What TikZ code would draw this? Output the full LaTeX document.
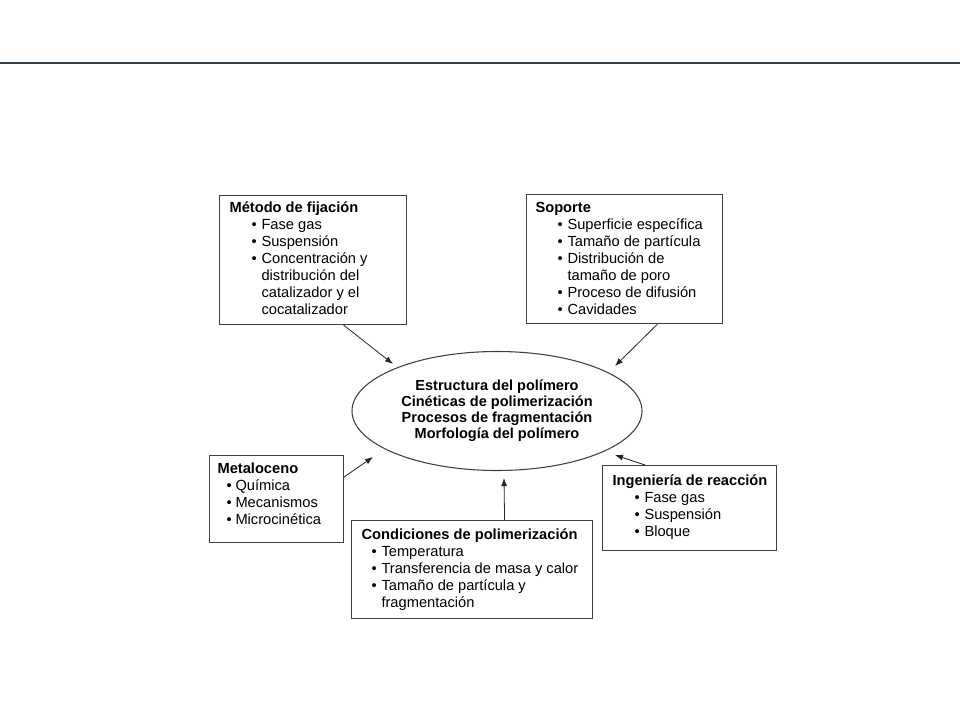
\documentclass[tikz,border=0pt]{standalone}
\usepackage{fontspec}
\setmainfont{Liberation Sans}
\usetikzlibrary{shapes.geometric,arrows.meta}
\definecolor{topline}{HTML}{2E3D47}
\definecolor{boxline}{HTML}{404040}
\definecolor{arrowcol}{HTML}{262626}
\newlength\bind
\newlength\bgap
\newcommand\bl[1]{\\\hspace*{\bind}\makebox[\bgap][l]{\textbullet}#1}
\newcommand\cl[1]{\\\hspace*{\bind}\hspace*{\bgap}#1}
% #1 W, #2 H, #3 left pad, #4 first baseline, #5 bullet indent, #6 bullet gap, #7 content
\newcommand\boxtext[7]{\parbox[c][#2][t]{#1}{\fontsize{11pt}{12.75pt}\selectfont
  \leftskip=#3\relax\setlength\bind{#5}\setlength\bgap{#6}\rule{0pt}{#4}#7}}
\begin{document}
\begin{tikzpicture}[x=0.75pt,y=-0.75pt,
  box/.style={draw=boxline,line width=0.8pt,inner sep=0pt,anchor=north west},
  conn/.style={draw=arrowcol,line width=0.6pt,-{Latex[length=6pt,width=4.5pt]}}]
\useasboundingbox[fill=white] (0,0) rectangle (960,720);
\draw[topline,line width=1.5pt] (0,63.5) -- (960,63.5);

\node[draw=boxline,line width=0.8pt,ellipse,minimum width=217.5pt,minimum height=89.25pt,inner sep=0pt,
  align=center,font=\fontsize{10.9pt}{12pt}\selectfont\bfseries] (ell) at (497,411)
  {Estructura del polímero\\Cinéticas de polimerización\\Procesos de fragmentación\\Morfología del polímero};

\node[box] (metodo) at (219,195) {\boxtext{140.25pt}{96.75pt}{7.5pt}{12.75pt}{16.5pt}{7.5pt}{%
  \textbf{Método de fijación}\bl{Fase gas}\bl{Suspensión}\bl{Concentración y}\cl{distribución del}\cl{catalizador y el}\cl{cocatalizador}}};

\node[box] (soporte) at (526,194) {\boxtext{147pt}{96.75pt}{6.75pt}{13.5pt}{16.5pt}{7.5pt}{%
  \textbf{Soporte}\bl{Superficie específica}\bl{Tamaño de partícula}\bl{Distribución de}\cl{tamaño de poro}\bl{Proceso de difusión}\bl{Cavidades}}};

\node[box] (metal) at (209,455) {\boxtext{100.5pt}{65.25pt}{6pt}{13.5pt}{6.75pt}{6.75pt}{%
  \textbf{Metaloceno}\bl{Química}\bl{Mecanismos}\bl{Microcinética}}};

\node[box] (cond) at (351,520) {\boxtext{180.75pt}{73.5pt}{7.5pt}{14.25pt}{7.5pt}{7.5pt}{%
  \textbf{Condiciones de polimerización}\bl{Temperatura}\bl{Transferencia de masa y calor}\bl{Tamaño de partícula y}\cl{fragmentación}}};

\node[box] (ing) at (602,465) {\boxtext{130.5pt}{63.75pt}{7.5pt}{15pt}{16.5pt}{7.5pt}{%
  \textbf{Ingeniería de reacción}\bl{Fase gas}\bl{Suspensión}\bl{Bloque}}};

\draw[conn] ([xshift=22.9pt]metodo.south) -- ([shift={(-104,-47)}]ell.center);
\draw[conn] ([xshift=24.75pt]soporte.south) -- ([shift={(118,-45)}]ell.center);
\draw[conn] ([yshift=-16.5pt]metal.north east) -- ([shift={(-124,46)}]ell.center);
\draw[conn] ([xshift=24.4pt]cond.north) -- ([shift={(7,67)}]ell.center);
\draw[conn] ([xshift=32.25pt]ing.north west) -- ([shift={(118,44)}]ell.center);
\end{tikzpicture}
\end{document}
